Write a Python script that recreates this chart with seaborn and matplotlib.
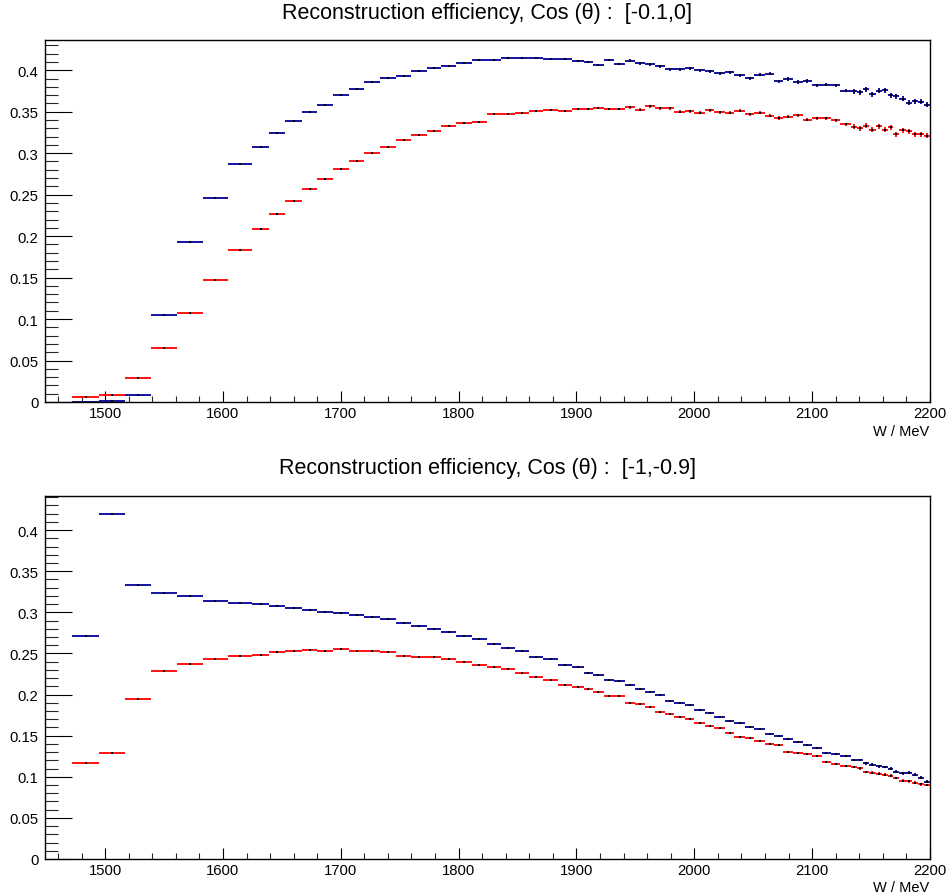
import numpy as np
import pandas as pd
import matplotlib
matplotlib.use("Agg")
import matplotlib.pyplot as plt
from matplotlib.ticker import MultipleLocator, FuncFormatter
import seaborn as sns

# ---------------- data ----------------
bin_edges = [1472, 1495, 1517, 1539, 1561, 1583, 1604, 1625, 1639, 1653,
             1667, 1680, 1693, 1707, 1720, 1733, 1747, 1760, 1773, 1785,
             1798, 1811, 1824, 1836, 1848, 1860, 1872, 1884, 1896, 1906,
             1914, 1923, 1932, 1941, 1950, 1958, 1967, 1975, 1983, 1992,
             2000, 2009, 2017, 2026, 2034, 2043, 2051, 2060, 2068, 2075,
             2084, 2092, 2100, 2108, 2116, 2124, 2133, 2138, 2143, 2148,
             2154, 2159, 2164, 2169, 2174, 2180, 2185, 2190, 2195, 2200]

top_title = "Reconstruction efficiency, Cos (\u03b8) :  [-0.1,0]"
bottom_title = "Reconstruction efficiency, Cos (\u03b8) :  [-1,-0.9]"
x_label = "W / MeV"

top_blue = [0.0, 0.001, 0.0088, 0.1055, 0.193, 0.2464, 0.2866, 0.3076, 0.3249, 0.3385,
            0.3499, 0.3587, 0.3704, 0.378, 0.3853, 0.3905, 0.3925, 0.399, 0.4022, 0.4054,
            0.4082, 0.4122, 0.4122, 0.4143, 0.4143, 0.4147, 0.4134, 0.414, 0.4114, 0.4094,
            0.4062, 0.4122, 0.4074, 0.4114, 0.4086, 0.4074, 0.405, 0.4013, 0.401, 0.4026,
            0.4002, 0.399, 0.3961, 0.3973, 0.3937, 0.3901, 0.3945, 0.3957, 0.3865, 0.3893,
            0.3857, 0.3869, 0.382, 0.3825, 0.382, 0.3752, 0.3748, 0.3732, 0.3768, 0.3712,
            0.3752, 0.3756, 0.37, 0.3687, 0.3659, 0.3611, 0.3627, 0.3619, 0.3583]
top_red = [0.0064, 0.0088, 0.029, 0.0652, 0.107, 0.1465, 0.1836, 0.208, 0.2262, 0.2419,
           0.2564, 0.2685, 0.2806, 0.291, 0.2999, 0.3076, 0.3156, 0.3217, 0.3269, 0.3325,
           0.3368, 0.338, 0.3476, 0.3468, 0.3484, 0.351, 0.3523, 0.3514, 0.3535, 0.3535,
           0.3541, 0.3527, 0.3527, 0.3555, 0.3523, 0.3567, 0.3543, 0.3539, 0.3499, 0.3506,
           0.3486, 0.3518, 0.3494, 0.349, 0.3511, 0.347, 0.349, 0.345, 0.3426, 0.3442,
           0.3458, 0.3406, 0.3422, 0.3422, 0.3398, 0.3349, 0.3321, 0.3301, 0.333, 0.3285,
           0.3325, 0.3285, 0.3313, 0.3228, 0.3277, 0.3265, 0.3228, 0.3228, 0.3213]
top_err = [0.0008, 0.0008, 0.0008, 0.0008, 0.0008, 0.0008, 0.0008, 0.001, 0.001, 0.001,
           0.001, 0.001, 0.001, 0.001, 0.001, 0.001, 0.001, 0.001, 0.001, 0.001,
           0.001, 0.001, 0.001, 0.001, 0.001, 0.001, 0.001, 0.001, 0.0012, 0.0012,
           0.0012, 0.0012, 0.0012, 0.0018, 0.0018, 0.0018, 0.0018, 0.0018, 0.0018, 0.0018,
           0.0018, 0.0018, 0.0018, 0.0018, 0.0018, 0.0018, 0.0018, 0.0018, 0.002, 0.002,
           0.002, 0.002, 0.002, 0.002, 0.002, 0.002, 0.003, 0.003, 0.003, 0.003,
           0.003, 0.003, 0.003, 0.003, 0.003, 0.003, 0.003, 0.003, 0.003]

bot_blue = [0.2713, 0.4197, 0.3337, 0.3236, 0.3196, 0.3143, 0.3118, 0.3106, 0.3082, 0.3054,
            0.3029, 0.3001, 0.2997, 0.2968, 0.294, 0.2916, 0.2871, 0.2838, 0.2798, 0.2762,
            0.2717, 0.2676, 0.2616, 0.2571, 0.2527, 0.2461, 0.2433, 0.2364, 0.2332, 0.2263,
            0.2235, 0.2178, 0.2162, 0.212, 0.2068, 0.2036, 0.1995, 0.1926, 0.1902, 0.187,
            0.1813, 0.1776, 0.1727, 0.1683, 0.165, 0.1602, 0.1582, 0.1521, 0.1496, 0.146,
            0.1427, 0.1387, 0.1354, 0.1293, 0.1277, 0.1253, 0.1204, 0.1204, 0.1164, 0.1144,
            0.1127, 0.1119, 0.1095, 0.1062, 0.1042, 0.105, 0.1022, 0.0989, 0.0937]
bot_red = [0.1172, 0.1293, 0.1946, 0.2291, 0.2372, 0.2437, 0.2473, 0.2485, 0.2514, 0.2534,
           0.2546, 0.2534, 0.2555, 0.2527, 0.2527, 0.2514, 0.2473, 0.2454, 0.2457, 0.2437,
           0.2393, 0.236, 0.2339, 0.2308, 0.2259, 0.221, 0.2181, 0.212, 0.2096, 0.2068,
           0.2032, 0.1987, 0.1983, 0.1901, 0.1882, 0.1845, 0.1792, 0.176, 0.1727, 0.1703,
           0.1655, 0.1618, 0.1598, 0.1529, 0.1488, 0.1472, 0.1436, 0.1399, 0.1383, 0.1305,
           0.1293, 0.1281, 0.1249, 0.1184, 0.1156, 0.1135, 0.1119, 0.1103, 0.1058, 0.105,
           0.1038, 0.1022, 0.101, 0.0985, 0.0949, 0.0945, 0.0925, 0.0909, 0.09]
bot_err = [0.0008, 0.0008, 0.0008, 0.0008, 0.0008, 0.0008, 0.0008, 0.0008, 0.0008, 0.0008,
           0.0008, 0.0008, 0.0008, 0.0008, 0.0008, 0.0008, 0.0008, 0.0008, 0.0008, 0.0008,
           0.0008, 0.0008, 0.0008, 0.0008, 0.0008, 0.0008, 0.0008, 0.0008, 0.0009, 0.0009,
           0.0009, 0.0009, 0.0009, 0.0012, 0.0012, 0.0012, 0.0012, 0.0012, 0.0012, 0.0012,
           0.0012, 0.0012, 0.0012, 0.0012, 0.0012, 0.0012, 0.0012, 0.0012, 0.0014, 0.0014,
           0.0014, 0.0014, 0.0014, 0.0014, 0.0014, 0.0014, 0.0018, 0.0018, 0.0018, 0.0018,
           0.0018, 0.0018, 0.0018, 0.0018, 0.0018, 0.0018, 0.0018, 0.0018, 0.0018]

series_colors = {"blue": "#000099", "red": "#ff0000"}

# ---------------- build table ----------------
edges = np.asarray(bin_edges, dtype=float)
centers = (edges[:-1] + edges[1:]) / 2
halfw = (edges[1:] - edges[:-1]) / 2

rows = []
for panel, blue, red, err in (("top", top_blue, top_red, top_err),
                              ("bottom", bot_blue, bot_red, bot_err)):
    for name, vals in (("blue", blue), ("red", red)):
        for c, h, v, e in zip(centers, halfw, vals, err):
            rows.append(dict(panel=panel, series=name, W=c, half=h, eff=v, err=e))
df = pd.DataFrame(rows)

# ---------------- style ----------------
sns.set_theme(style="ticks")
plt.rcParams["font.family"] = ["Liberation Sans", "DejaVu Sans"]
plt.rcParams["axes.linewidth"] = 1.0

fig = plt.figure(figsize=(9.48, 8.95), dpi=100)
W_px, H_px = 948, 895


def px_axes(left, top, right, bottom):
    return fig.add_axes([left / W_px, 1 - bottom / H_px,
                         (right - left) / W_px, (bottom - top) / H_px])


ax_top = px_axes(45, 41, 930, 403)
ax_bot = px_axes(45, 497, 930, 860)

for ax, panel, title, title_base, xl_base in (
        (ax_top, "top", top_title, 18.5, 436),
        (ax_bot, "bottom", bottom_title, 474, 892)):
    sub = df[df.panel == panel]
    for name in ("red", "blue"):
        s = sub[sub.series == name]
        ax.errorbar(s.W, s.eff, xerr=s.half, yerr=s.err, fmt="none",
                    ecolor=series_colors[name], elinewidth=1.3, capsize=0, zorder=2)
        sns.scatterplot(data=s, x="W", y="eff", color="black", s=3, linewidth=0,
                        marker="s", ax=ax, legend=False, zorder=3)
    ymax = float((sub.eff + sub.err).max()) * 1.05
    ax.set_xlim(1449, 2200)
    ax.set_ylim(0, ymax)
    ax.set_xlabel("")
    ax.set_ylabel("")
    ax.xaxis.set_major_locator(MultipleLocator(100))
    ax.xaxis.set_minor_locator(MultipleLocator(20))
    ax.yaxis.set_major_locator(MultipleLocator(0.05))
    ax.yaxis.set_minor_locator(MultipleLocator(0.01))
    ax.yaxis.set_major_formatter(FuncFormatter(lambda v, p: "%g" % round(v, 4)))
    ax.xaxis.set_major_formatter(FuncFormatter(lambda v, p: "%d" % v))
    ax.tick_params(axis="y", which="major", direction="in", length=19.4, width=0.8,
                   labelsize=10.7, pad=4.8, colors="black")
    ax.tick_params(axis="y", which="minor", direction="in", length=9.6, width=0.8)
    ax.tick_params(axis="x", which="major", direction="in", length=7.8, width=0.8,
                   labelsize=10.7, pad=3.2, colors="black")
    ax.tick_params(axis="x", which="minor", direction="in", length=4.3, width=0.8)
    ax.tick_params(top=False, right=False, which="both")
    for sp in ax.spines.values():
        sp.set_visible(True)
        sp.set_color("black")
        sp.set_linewidth(1.0)
    cx = (45 + 930) / 2 / W_px
    fig.text(cx, 1 - title_base / H_px, title, ha="center", va="baseline",
             fontsize=15.5, color="black")
    fig.text(929 / W_px, 1 - xl_base / H_px, x_label, ha="right", va="baseline",
             fontsize=10.5, color="black")

fig.savefig("out.png", dpi=100)
